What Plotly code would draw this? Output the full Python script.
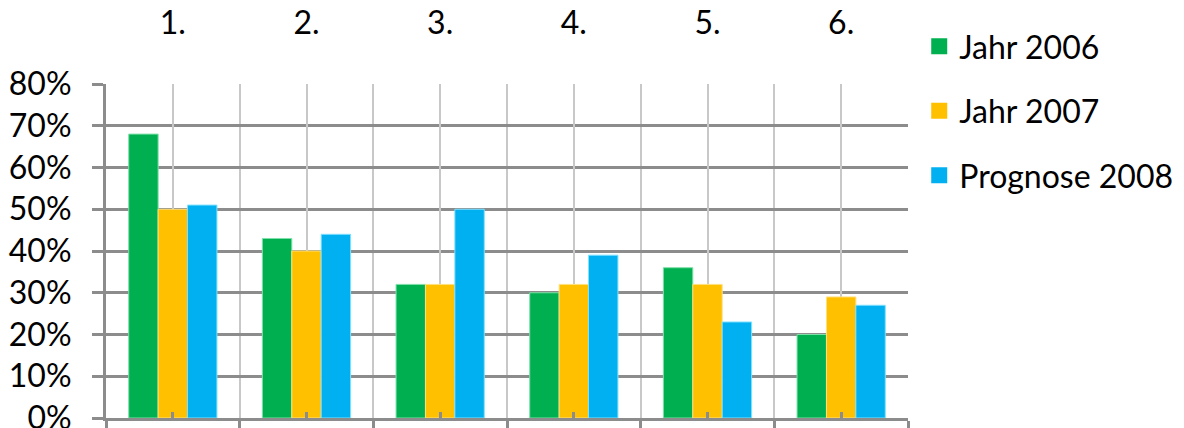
import plotly.graph_objects as go

categories = ["1.", "2.", "3.", "4.", "5.", "6."]
series_names = ["Jahr 2006", "Jahr 2007", "Prognose 2008"]
jahr_2006 = [0.68, 0.43, 0.32, 0.30, 0.36, 0.20]
jahr_2007 = [0.50, 0.40, 0.32, 0.32, 0.32, 0.29]
prognose_2008 = [0.51, 0.44, 0.50, 0.39, 0.23, 0.27]
y_tick_values = [0, 0.1, 0.2, 0.3, 0.4, 0.5, 0.6, 0.7, 0.8]

colors = ["#00B050", "#FFC000", "#00B0F0"]
edge = ["#7fe0a8", "#ffe080", "#80e0ff"]
FONT = "Lato"
fs = 32

fig = go.Figure()
for name, vals, c, e in zip(series_names, [jahr_2006, jahr_2007, prognose_2008], colors, edge):
    fig.add_trace(go.Bar(x=categories, y=vals, name=name, marker=dict(color=c, line=dict(color=e, width=1)),
                         showlegend=False, xaxis="x", yaxis="y"))
# legend entries (on the top category axis)
for i, (name, c) in enumerate(zip(series_names, colors)):
    fig.add_trace(go.Scatter(x=categories, y=[None] * len(categories), name=name, mode="markers",
                             marker=dict(symbol="square", size=20, color=c),
                             legendgroup=name, xaxis="x2", yaxis="y"))
# empty trace so the bottom centre-tick axis knows the categories
fig.add_trace(go.Scatter(x=categories, y=[None] * len(categories), mode="markers", showlegend=False,
                         hoverinfo="skip", xaxis="x3", yaxis="y"))

fig.update_layout(
    width=1184, height=428,
    margin=dict(l=106, r=276, t=84, b=10, autoexpand=False),
    paper_bgcolor="white", plot_bgcolor="white",
    font=dict(family=FONT, size=fs, color="black"),
    barmode="group", bargap=0.34, bargroupgap=0,
    showlegend=True,
    legend=dict(x=1.014, xanchor="left", y=1.195, yanchor="top", font=dict(size=fs, family=FONT),
                tracegroupgap=20, itemsizing="trace", bgcolor="rgba(0,0,0,0)"),
    xaxis=dict(type="category", categoryorder="array", categoryarray=categories, range=[-0.5, 5.5],
               tickson="boundaries", ticks="outside", ticklen=12, tickwidth=3, tickcolor="#8c8c8c",
               showticklabels=False, showgrid=True, gridcolor="#c8c8c8", gridwidth=2,
               showline=True, linecolor="#8c8c8c", linewidth=3, zeroline=False, automargin=False),
    xaxis2=dict(type="category", categoryorder="array", categoryarray=categories, range=[-0.5, 5.5],
                overlaying="x", side="top", tickson="labels", ticks="", showline=False,
                showgrid=True, gridcolor="#c8c8c8", gridwidth=2, ticklabelstandoff=43, automargin=False,
                tickfont=dict(size=fs, family=FONT, color="black")),
    xaxis3=dict(type="category", categoryorder="array", categoryarray=categories, range=[-0.5, 5.5],
                overlaying="x", side="bottom", tickson="labels", ticks="inside", ticklen=6, tickwidth=3,
                tickcolor="#8c8c8c", showticklabels=False, showgrid=False, showline=False,
                zeroline=False, automargin=False),
    yaxis=dict(range=[0, 0.8], tickvals=y_tick_values, tickformat=".0%", ticks="outside", ticklen=11,
               tickwidth=3, tickcolor="#8c8c8c", showgrid=True, gridcolor="#8c8c8c", gridwidth=3,
               showline=True, linecolor="#8c8c8c", linewidth=3, zeroline=False, ticklabelstandoff=14,
               ticklabeloverflow="allow", automargin=False,
               tickfont=dict(size=fs, family=FONT, color="black")),
)

fig.write_html("out.html")
